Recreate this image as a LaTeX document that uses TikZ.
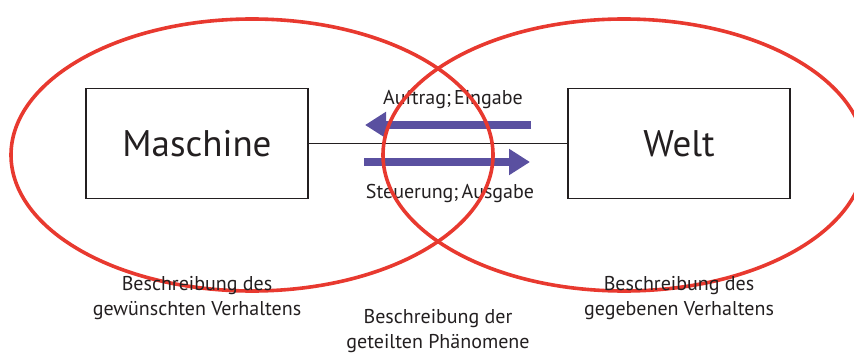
\documentclass[tikz,border=0pt]{standalone}
\usepackage{fontspec}
\setmainfont{PT Sans}
\usetikzlibrary{arrows.meta}
\definecolor{ringred}{HTML}{E8392F}
\definecolor{flowblue}{HTML}{5A50A0}
\definecolor{ink}{HTML}{231F20}
\begin{document}
\begin{tikzpicture}[x=1pt,y=-1pt,
  box/.style={draw=ink,line width=1.8pt,minimum width=222pt,minimum height=110pt,
    font=\fontsize{37}{40}\selectfont,text=ink,inner sep=0pt},
  ring/.style={draw=ringred,line width=3.6pt},
  flow/.style={flowblue,line width=8.5pt,-{Triangle[width=25pt,length=21pt]}},
  caption/.style={font=\fontsize{20}{25}\selectfont,text=ink,align=center,inner sep=0pt},
]
\useasboundingbox (0,0) rectangle (854,356);

% the two components and their interface line
\node[box] (m) at (197,143.5) {Maschine};
\node[box] (w) at (679,143.5) {Welt};
\draw[ink,line width=1.3pt] (m.east) -- (w.west);

% flows across the interface
\coordinate (inS) at (531,125);
\coordinate (inE) at (365,125);
\coordinate (outS) at (364,162);
\coordinate (outE) at (530,162);
\draw[flow] (inS) -- (inE);
\draw[flow] (outS) -- (outE);
\node[caption] (auf) at (453,100) {Auftrag;\hspace{0.15em}Eingabe};
\node[caption] (steu) at (450,193) {Steuerung;\hspace{0.15em}Ausgabe};

% description regions
\draw[ring] (252,155) ellipse [x radius=241, y radius=136];
\draw[ring] (624,155) ellipse [x radius=241, y radius=136];

% region labels
\node[caption] (lm) at (197,298.5) {Beschreibung des\\gewünschten Verhaltens};
\node[caption] (lw) at (679,298.5) {Beschreibung des\\gegebenen Verhaltens};
\node[caption] (ls) at (438,331.5) {Beschreibung der\\geteilten Phänomene};
\end{tikzpicture}
\end{document}
